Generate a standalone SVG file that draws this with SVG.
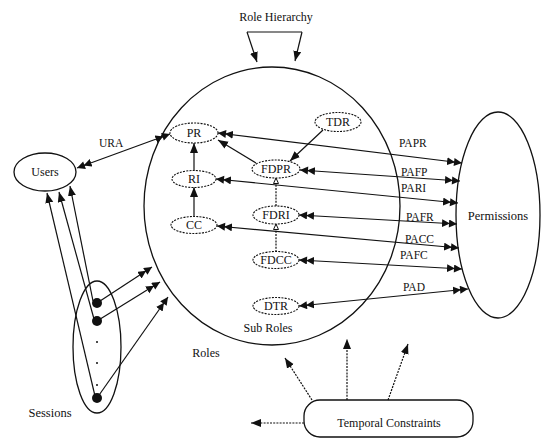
<svg xmlns="http://www.w3.org/2000/svg" width="545" height="442" viewBox="0 0 545 442" font-family="'Liberation Serif', 'DejaVu Serif', serif">
<defs>
<style>
text{font-family:'Liberation Serif','DejaVu Serif',serif;fill:#111;}
.n{fill:none;stroke:#111;stroke-width:1.3;}
.r{fill:#fff;stroke:#111;stroke-width:1.1;stroke-dasharray:2 1.2;}
.c{fill:none;stroke:#111;stroke-width:1.2;}
.d{fill:none;stroke:#111;stroke-width:1.2;stroke-dasharray:2 1.2;}
.lb{font-size:11.5px;}
.t{font-size:12px;text-anchor:middle;}
</style>
<marker id="dbl" markerUnits="userSpaceOnUse" markerWidth="16" markerHeight="9" refX="15" refY="4" orient="auto-start-reverse">
<path d="M0,0 L8,4 L0,8 z M7,0 L15,4 L7,8 z" fill="#111"/>
</marker>
<marker id="arr" markerUnits="userSpaceOnUse" markerWidth="11" markerHeight="9" refX="10" refY="4" orient="auto">
<path d="M0,0 L10,4 L0,8 z" fill="#111"/>
</marker>
<marker id="hol" markerUnits="userSpaceOnUse" markerWidth="8" markerHeight="8" refX="6" refY="3" orient="auto">
<path d="M0.5,0.5 L6,3 L0.5,5.5 z" fill="#fff" stroke="#111" stroke-width="1"/>
</marker>
</defs>
<rect width="545" height="442" fill="#fff"/>

<g id="connectors">
<path class="c" d="M247,32 H302"/>
<line class="c" x1="247" y1="32" x2="257" y2="62" marker-end="url(#arr)"/>
<line class="c" x1="302" y1="32" x2="295" y2="61" marker-end="url(#arr)"/>
<line class="c" x1="77" y1="168" x2="170" y2="134" marker-start="url(#dbl)" marker-end="url(#dbl)"/>
<line class="c" x1="218" y1="133" x2="462" y2="163" marker-start="url(#dbl)" marker-end="url(#dbl)"/>
<line class="c" x1="300" y1="170" x2="460" y2="181" marker-start="url(#dbl)" marker-end="url(#dbl)"/>
<line class="c" x1="216" y1="179" x2="458" y2="203" marker-start="url(#dbl)" marker-end="url(#dbl)"/>
<line class="c" x1="299" y1="215" x2="457" y2="224" marker-start="url(#dbl)" marker-end="url(#dbl)"/>
<line class="c" x1="217" y1="226" x2="459" y2="248" marker-start="url(#dbl)" marker-end="url(#dbl)"/>
<line class="c" x1="299" y1="260" x2="462" y2="269" marker-start="url(#dbl)" marker-end="url(#dbl)"/>
<line class="c" x1="299" y1="306" x2="468" y2="289" marker-start="url(#dbl)" marker-end="url(#dbl)"/>
<line class="c" x1="194" y1="171" x2="194" y2="143" marker-end="url(#arr)"/>
<line class="c" x1="194" y1="217" x2="194" y2="187" marker-end="url(#arr)"/>
<line class="c" x1="256" y1="163" x2="218" y2="140" marker-end="url(#arr)"/>
<line class="c" x1="323" y1="130" x2="290" y2="161" marker-end="url(#arr)"/>
<line class="d" x1="276" y1="206" x2="276" y2="178" marker-end="url(#hol)"/>
<line class="d" x1="276" y1="252" x2="276" y2="224" marker-end="url(#hol)"/>
<line class="c" x1="93" y1="301" x2="70" y2="186" marker-end="url(#arr)"/>
<line class="c" x1="94" y1="319" x2="59" y2="192" marker-end="url(#arr)"/>
<line class="c" x1="95" y1="396" x2="47" y2="193" marker-end="url(#arr)"/>
<line class="c" x1="97" y1="303" x2="152" y2="267" marker-end="url(#dbl)"/>
<line class="c" x1="97" y1="321" x2="160" y2="282" marker-end="url(#dbl)"/>
<line class="c" x1="97" y1="398" x2="168" y2="297" marker-end="url(#dbl)"/>
<line class="d" x1="304" y1="423" x2="251" y2="423" marker-end="url(#arr)"/>
<line class="d" x1="312" y1="400" x2="285" y2="358" marker-end="url(#arr)"/>
<line class="d" x1="347" y1="400" x2="347" y2="339" marker-end="url(#arr)"/>
<line class="d" x1="388" y1="400" x2="408" y2="344" marker-end="url(#arr)"/>
</g>

<g id="roles">
<ellipse class="n" cx="272" cy="206" rx="128" ry="139"/>
<text class="t" x="268" y="332">Sub Roles</text>
<text class="t" x="206" y="357">Roles</text>
</g>
<g id="role-hierarchy"><text class="t" x="276" y="21">Role Hierarchy</text></g>
<g id="users">
<ellipse class="n" cx="45" cy="172" rx="31" ry="19"/>
<text class="t" x="45" y="176">Users</text>
</g>
<g id="permissions">
<ellipse class="n" cx="498" cy="215" rx="42" ry="103"/>
<text class="t" x="498" y="220" style="font-size:12.5px">Permissions</text>
</g>
<g id="sessions">
<ellipse class="n" cx="97" cy="347" rx="24" ry="66"/>
<circle cx="97" cy="303" r="5" fill="#111"/>
<circle cx="97" cy="321" r="5" fill="#111"/>
<circle cx="97" cy="342" r="1" fill="#111"/>
<circle cx="97" cy="363" r="1" fill="#111"/>
<circle cx="97" cy="385" r="1" fill="#111"/>
<circle cx="97" cy="398" r="5" fill="#111"/>
<text class="t" x="50" y="417" style="font-size:12.5px">Sessions</text>
</g>
<g id="PR"><ellipse class="r" cx="194" cy="133" rx="24" ry="10"/><text class="t" x="194" y="137">PR</text></g>
<g id="RI"><ellipse class="r" cx="194" cy="179" rx="22" ry="8.5"/><text class="t" x="194" y="183">RI</text></g>
<g id="CC"><ellipse class="r" cx="194" cy="225" rx="23" ry="8.5"/><text class="t" x="194" y="229">CC</text></g>
<g id="TDR"><ellipse class="r" cx="338" cy="122" rx="23" ry="9.5"/><text class="t" x="338" y="126">TDR</text></g>
<g id="FDPR"><ellipse class="r" cx="276" cy="169" rx="24" ry="9"/><text class="t" x="276" y="173">FDPR</text></g>
<g id="FDRI"><ellipse class="r" cx="276" cy="215" rx="23" ry="9"/><text class="t" x="276" y="219">FDRI</text></g>
<g id="FDCC"><ellipse class="r" cx="276" cy="260" rx="23" ry="8.5"/><text class="t" x="276" y="264">FDCC</text></g>
<g id="DTR"><ellipse class="r" cx="276" cy="306" rx="23" ry="8.5"/><text class="t" x="276" y="310">DTR</text></g>
<g id="temporal">
<rect class="n" x="304" y="400" width="169" height="37" rx="16"/>
<text class="t" x="389" y="427">Temporal Constraints</text>
</g>
<g id="labels">
<text class="lb" x="99" y="147">URA</text>
<text class="lb" x="399" y="147">PAPR</text>
<text class="lb" x="401" y="176">PAFP</text>
<text class="lb" x="401" y="192">PARI</text>
<text class="lb" x="406" y="221">PAFR</text>
<text class="lb" x="405" y="243">PACC</text>
<text class="lb" x="400" y="259">PAFC</text>
<text class="lb" x="403" y="291">PAD</text>
</g>
</svg>
